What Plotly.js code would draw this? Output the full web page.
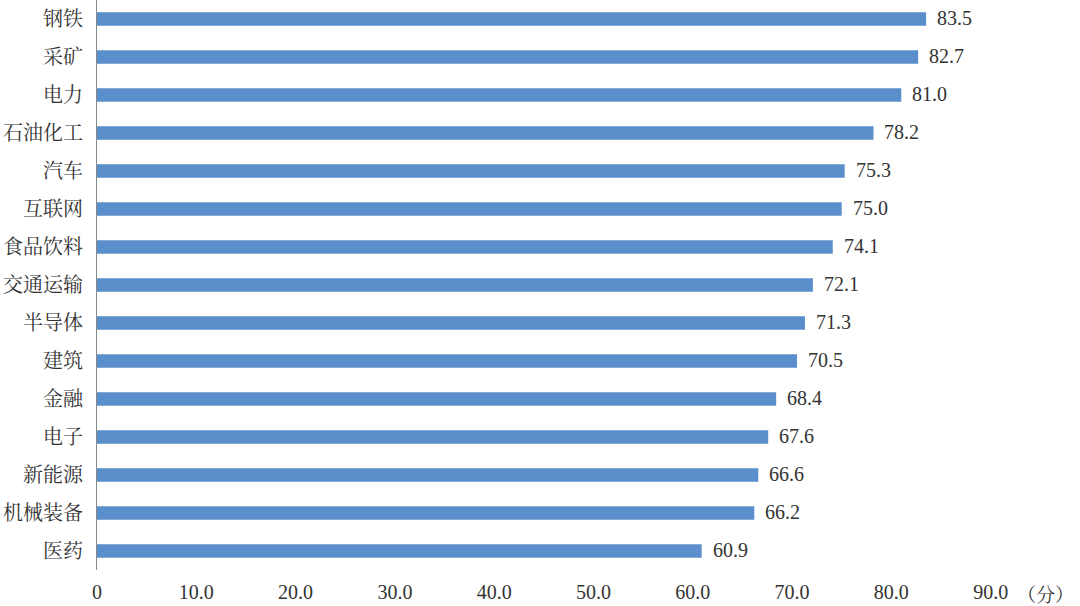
<!DOCTYPE html>
<html>
<head>
<meta charset="utf-8">
<script src="https://cdn.plot.ly/plotly-3.0.1.min.js"></script>
<style>html,body{margin:0;padding:0;background:#fff;}#chart{width:1080px;height:606px;}</style>
</head>
<body>
<div id="chart"></div>
<script>
const categories = ["钢铁","采矿","电力","石油化工","汽车","互联网","食品饮料","交通运输","半导体","建筑","金融","电子","新能源","机械装备","医药"];
const scores = [83.5,82.7,81.0,78.2,75.3,75.0,74.1,72.1,71.3,70.5,68.4,67.6,66.6,66.2,60.9];
const tickVals = [0,10,20,30,40,50,60,70,80,90];
const tickText = ["0","10.0","20.0","30.0","40.0","50.0","60.0","70.0","80.0","90.0"];
const unitLabel = "（分）";

const serif = "Liberation Serif, Times New Roman, serif";
const cjk = "Noto Serif CJK SC, Noto Sans CJK SC, serif";

const annotations = scores.map((v, i) => ({
  x: v, y: categories[i], xref: 'x', yref: 'y',
  text: v.toFixed(1), showarrow: false, xanchor: 'left', xshift: 9, yshift: 1,
  font: {family: serif, size: 20, color: '#333333'}
}));
annotations.push({
  x: 90, y: 0, xref: 'x', yref: 'paper', text: unitLabel, showarrow: false,
  xanchor: 'left', yanchor: 'middle', xshift: 24, yshift: -23,
  font: {family: cjk, size: 19, color: '#333333'}
});

const trace = {
  type: 'bar', orientation: 'h',
  x: scores, y: categories,
  marker: {color: '#5B8FCB'},
  hoverinfo: 'none'
};

const layout = {
  width: 1080, height: 606,
  margin: {l: 97, r: 0, t: 0, b: 36, pad: 0},
  paper_bgcolor: '#ffffff', plot_bgcolor: '#ffffff',
  bargap: 0.65,
  showlegend: false,
  xaxis: {
    range: [0, 99], tickvals: tickVals, ticktext: tickText,
    showgrid: false, zeroline: false, showline: false,
    ticks: 'outside', ticklen: 4, tickcolor: 'rgba(0,0,0,0)',
    tickfont: {family: serif, size: 20, color: '#333333'}
  },
  yaxis: {
    autorange: 'reversed', type: 'category',
    showgrid: false, zeroline: false,
    showline: true, linecolor: '#888888', linewidth: 1,
    ticks: 'outside', ticklen: 9, tickcolor: 'rgba(0,0,0,0)',
    tickfont: {family: cjk, size: 20, color: '#333333'}
  },
  annotations: annotations
};

Plotly.newPlot('chart', [trace], layout, {displayModeBar: false, staticPlot: true});
</script>
</body>
</html>
